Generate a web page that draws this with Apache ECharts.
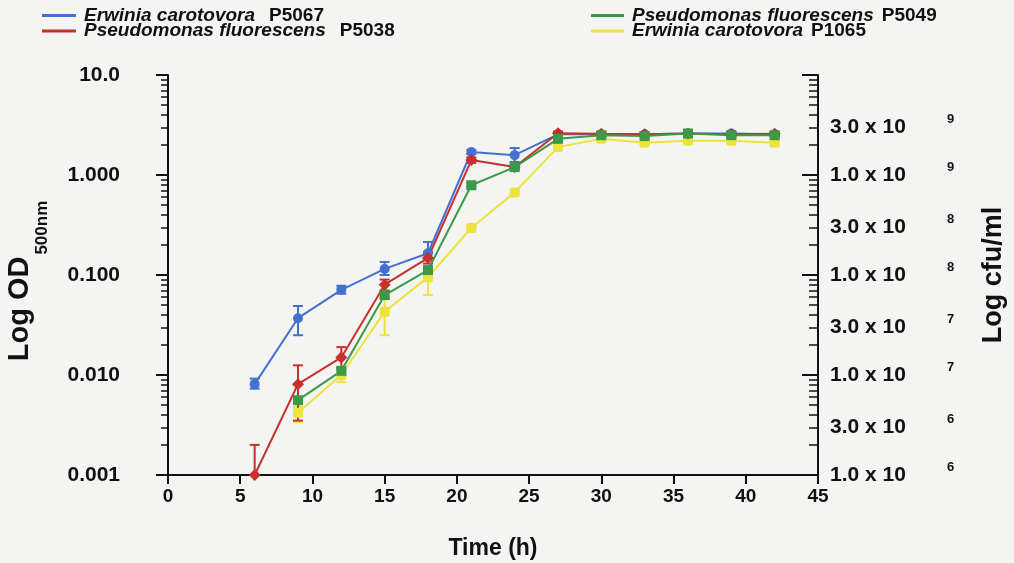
<!DOCTYPE html>
<html><head><meta charset="utf-8">
<script src="https://cdn.jsdelivr.net/npm/echarts@6/dist/echarts.min.js"></script>
<style>html,body{margin:0;padding:0;background:#f4f4f2}#c{width:1014px;height:563px}</style>
</head><body><div id="c"></div>
<script>
// ---- data ----
const times = [6, 9, 12, 15, 18, 21, 24, 27, 30, 33, 36, 39, 42];
const seriesNames = ['Erwinia carotovora P5067', 'Pseudomonas fluorescens P5038', 'Pseudomonas fluorescens P5049', 'Erwinia carotovora P1065'];
const ecP5067 =    [0.0081, 0.037, 0.071, 0.115, 0.165, 1.70, 1.58, 2.55, 2.55, 2.55, 2.60, 2.60, 2.55];
const ecP5067Lo =  [0.0073, 0.025, 0.065, 0.100, 0.140, 1.62, 1.35, 2.45, 2.45, 2.45, 2.50, 2.50, 2.45];
const ecP5067Hi =  [0.0092, 0.049, 0.078, 0.135, 0.214, 1.78, 1.86, 2.65, 2.65, 2.65, 2.70, 2.70, 2.65];
const pfP5038 =    [0.0010, 0.0081, 0.015, 0.080, 0.148, 1.41, 1.20, 2.62, 2.58, 2.56, 2.60, 2.56, 2.58];
const pfP5038Lo =  [0.0010, 0.0035, 0.0115, 0.070, 0.130, 1.32, 1.14, 2.52, 2.48, 2.46, 2.50, 2.46, 2.48];
const pfP5038Hi =  [0.0020, 0.0125, 0.019, 0.090, 0.170, 1.50, 1.26, 2.72, 2.68, 2.66, 2.70, 2.66, 2.68];
const pfP5049 =    [null, 0.0056, 0.011, 0.063, 0.112, 0.79, 1.20, 2.30, 2.50, 2.45, 2.60, 2.50, 2.50];
const pfP5049Lo =  [null, 0.0052, 0.0100, 0.058, 0.104, 0.75, 1.14, 2.20, 2.40, 2.35, 2.50, 2.40, 2.40];
const pfP5049Hi =  [null, 0.0060, 0.0120, 0.068, 0.120, 0.83, 1.26, 2.40, 2.60, 2.55, 2.70, 2.60, 2.60];
const ecP1065 =    [null, 0.0042, 0.010, 0.043, 0.095, 0.295, 0.67, 1.90, 2.30, 2.10, 2.20, 2.20, 2.10];
const ecP1065Lo =  [null, 0.0034, 0.0085, 0.025, 0.063, 0.280, 0.64, 1.80, 2.20, 2.00, 2.10, 2.10, 2.00];
const ecP1065Hi =  [null, 0.0048, 0.0115, 0.060, 0.120, 0.310, 0.70, 2.00, 2.40, 2.20, 2.30, 2.30, 2.20];
const leftTickValues = [0.001, 0.01, 0.1, 1, 10];
const leftTickLabels = ['0.001', '0.010', '0.100', '1.000', '10.0'];
const rightTickValues = [1e6, 3e6, 1e7, 3e7, 1e8, 3e8, 1e9, 3e9];
const rightTickMantissa = ['1.0 x 10', '3.0 x 10', '1.0 x 10', '3.0 x 10', '1.0 x 10', '3.0 x 10', '1.0 x 10', '3.0 x 10'];
const rightTickExponent = ['6', '6', '7', '7', '8', '8', '9', '9'];
const xTicks = [0, 45, 5];

// ---- helpers ----
const colors = ['#4470d0', '#c8302c', '#3a9a48', '#ece43c'];
const symbols = ['circle', 'diamond', 'rect', 'roundRect'];
const symbolSizes = [10, 12, 10, 10];
const FONT = '"Liberation Sans", Arial, sans-serif';
function decadeMinors(lo, hi) {
  const out = [];
  for (let d = lo; d < hi; d *= 10) for (let k = 2; k <= 9; k++) out.push(+(d * k).toPrecision(3));
  return out;
}
function decades(lo, hi) { const o = []; for (let d = lo; d <= hi * 1.0001; d *= 10) o.push(+d.toPrecision(3)); return o; }
function nearestIdx(arr, v) {
  let b = 0, bd = Infinity;
  arr.forEach((a, i) => { const d = Math.abs(Math.log10(a) - Math.log10(v)); if (d < bd) { bd = d; b = i; } });
  return b;
}
const vals = [ecP5067, pfP5038, pfP5049, ecP1065];
const los = [ecP5067Lo, pfP5038Lo, pfP5049Lo, ecP1065Lo];
const his = [ecP5067Hi, pfP5038Hi, pfP5049Hi, ecP1065Hi];
const order = [3, 0, 1, 2];
const series = [];
order.forEach(i => {
  const col = colors[i];
  series.push({
    type: 'custom', name: seriesNames[i] + ' err', yAxisIndex: 0, silent: true,
    encode: { x: 0, y: [1, 2] },
    data: times.map((t, k) => vals[i][k] == null ? null : [t, los[i][k], his[i][k]]).filter(d => d),
    renderItem: (params, api) => {
      const x = api.value(0);
      const p1 = api.coord([x, api.value(2)]);
      const p2 = api.coord([x, api.value(1)]);
      const w = 5;
      const st = { stroke: col, lineWidth: 2 };
      return { type: 'group', children: [
        { type: 'line', shape: { x1: p1[0], y1: p1[1], x2: p2[0], y2: p2[1] }, style: st },
        { type: 'line', shape: { x1: p1[0] - w, y1: p1[1], x2: p1[0] + w, y2: p1[1] }, style: st },
        { type: 'line', shape: { x1: p2[0] - w, y1: p2[1], x2: p2[0] + w, y2: p2[1] }, style: st }
      ] };
    }
  });
});
order.forEach(i => {
  series.push({
    type: 'line', name: seriesNames[i], yAxisIndex: 0,
    data: times.map((t, k) => vals[i][k] == null ? null : [t, vals[i][k]]).filter(d => d),
    symbol: symbols[i], symbolSize: symbolSizes[i], showAllSymbol: true,
    lineStyle: { color: colors[i], width: 2 },
    itemStyle: { color: colors[i] },
    color: colors[i]
  });
});

const legendFmt = name => {
  const k = name.lastIndexOf(' ');
  return '{i|' + name.slice(0, k) + '}{n|' + name.slice(k + 1) + '}';
};
const legendRich = (gap) => ({
  i: { fontFamily: FONT, fontStyle: 'italic', fontWeight: 'bold', fontSize: 19, color: '#111', padding: [0, 0, 0, 3], lineHeight: 14.5 },
  n: { fontFamily: FONT, fontWeight: 'bold', fontSize: 19, color: '#111', padding: [0, 0, 0, gap], lineHeight: 14.5 }
});
const axisLine = { show: true, lineStyle: { color: '#111', width: 2 } };

const option = {
  backgroundColor: '#f4f4f2',
  animation: false,
  grid: { left: 168, right: 196, top: 75, bottom: 88, containLabel: false, outerBoundsMode: 'none' },
  legend: [
    { data: [seriesNames[0], seriesNames[1]], left: 42, top: 6, padding: 0, orient: 'vertical', icon: 'rect', itemWidth: 34, itemHeight: 3, itemGap: -3.5, formatter: legendFmt, textStyle: { rich: legendRich(14) }, selectedMode: false },
    { data: [seriesNames[2], seriesNames[3]], left: 591, top: 6, padding: 0, orient: 'vertical', icon: 'rect', itemWidth: 33, itemHeight: 3, itemGap: -3.5, formatter: legendFmt, textStyle: { rich: legendRich(8) }, selectedMode: false }
  ],
  xAxis: {
    type: 'value', min: xTicks[0], max: xTicks[1], interval: xTicks[2],
    axisLine: axisLine,
    axisTick: { show: true, length: 9, lineStyle: { color: '#111', width: 2 } },
    axisLabel: { margin: 12, fontFamily: FONT, fontWeight: 'bold', fontSize: 19, color: '#111' },
    splitLine: { show: false },
    name: 'Time (h)', nameLocation: 'middle', nameGap: 62,
    nameTextStyle: { fontFamily: FONT, fontWeight: 'bold', fontSize: 23, color: '#111' }
  },
  yAxis: [
    {
      type: 'log', min: leftTickValues[0], max: leftTickValues[leftTickValues.length - 1], position: 'left',
      axisLine: axisLine,
      axisTick: { show: true, length: 12, customValues: leftTickValues, lineStyle: { color: '#111', width: 2 } },
      axisLabel: { customValues: leftTickValues, margin: 48, fontFamily: FONT, fontWeight: 'bold', fontSize: 21, color: '#111',
        formatter: v => leftTickLabels[nearestIdx(leftTickValues, v)] },
      splitLine: { show: false },
      name: '{a|Log OD}{b|500nm}', nameLocation: 'middle', nameGap: 117, nameRotate: 90,
      nameTextStyle: { rich: {
        a: { fontFamily: FONT, fontWeight: 'bold', fontSize: 29, color: '#111', lineHeight: 30, verticalAlign: 'top' },
        b: { fontFamily: FONT, fontWeight: 'bold', fontSize: 17, color: '#111', lineHeight: 46, verticalAlign: 'bottom', padding: [0, 12, 0, 2] }
      } }
    },
    {
      type: 'log', min: leftTickValues[0], max: leftTickValues[leftTickValues.length - 1], position: 'left',
      axisLine: { show: false },
      axisTick: { show: true, length: 7, customValues: decadeMinors(0.001, 10), lineStyle: { color: '#111', width: 1.5 } },
      axisLabel: { show: false }, splitLine: { show: false }
    },
    {
      type: 'log', min: 1e6, max: 1e10, position: 'right',
      axisLine: axisLine,
      axisTick: { show: true, inside: true, length: 16, customValues: decades(1e6, 1e10), lineStyle: { color: '#111', width: 2 } },
      axisLabel: { customValues: rightTickValues, margin: 12, align: 'left',
        formatter: v => { const i = nearestIdx(rightTickValues, v); return '{m|' + rightTickMantissa[i] + '}{s|' + rightTickExponent[i] + '}'; },
        rich: {
          m: { fontFamily: FONT, fontWeight: 'bold', fontSize: 21, color: '#111', lineHeight: 28 },
          s: { fontFamily: FONT, fontWeight: 'bold', fontSize: 13, color: '#111', verticalAlign: 'top', padding: [0, 0, 0, 41] }
        } },
      splitLine: { show: false },
      name: 'Log cfu/ml', nameLocation: 'middle', nameGap: 162, nameRotate: 90,
      nameTextStyle: { fontFamily: FONT, fontWeight: 'bold', fontSize: 27, color: '#111' }
    },
    {
      type: 'log', min: 1e6, max: 1e10, position: 'right',
      axisLine: { show: false },
      axisTick: { show: true, inside: true, length: 9, customValues: decadeMinors(1e6, 1e10), lineStyle: { color: '#111', width: 1.5 } },
      axisLabel: { show: false }, splitLine: { show: false }
    }
  ],
  series: series
};
const chart = echarts.init(document.getElementById('c'), null, { renderer: 'canvas' });
chart.setOption(option);
</script></body></html>
